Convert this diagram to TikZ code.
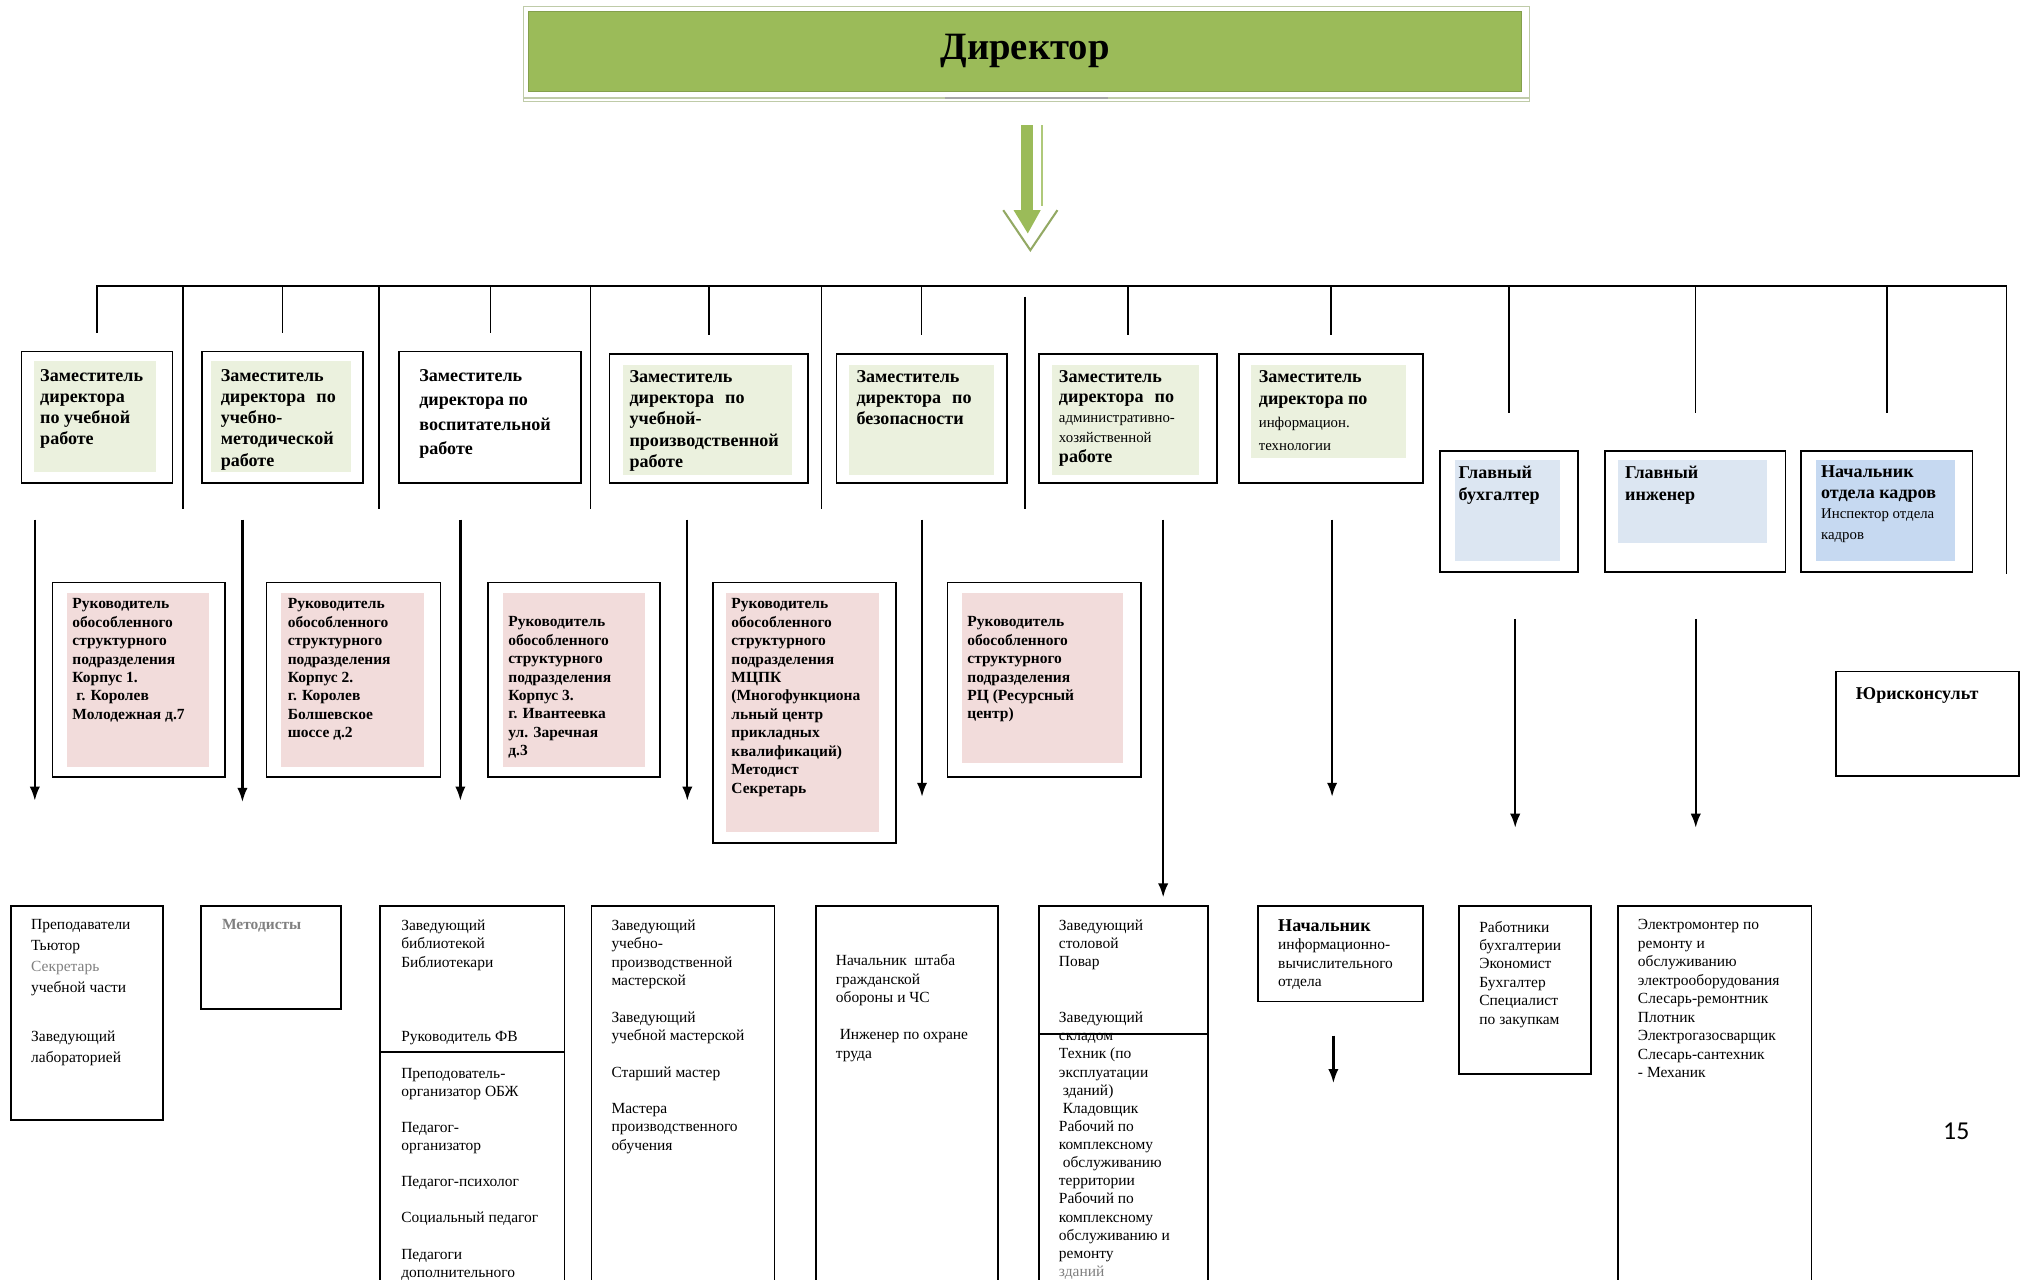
\documentclass[tikz,border=0pt]{standalone}
\usepackage{fontspec}
\setmainfont{Liberation Serif}
\setsansfont{Carlito}
\usetikzlibrary{arrows.meta}
\usepackage{xcolor}
\definecolor{dirgreen}{HTML}{9BBB59}
\definecolor{dirframe}{HTML}{BFCBA8}
\definecolor{zamfill}{HTML}{EBF1DE}
\definecolor{rukfill}{HTML}{F2DCDB}
\definecolor{glavfill}{HTML}{DCE6F2}
\definecolor{kadrfill}{HTML}{C6D9F1}
\tikzset{
	box/.style={draw, line width=1.3pt, anchor=north west, inner sep=0pt},
	txt/.style={anchor=north west, inner sep=0pt, align=left},
	zamtxt/.style={txt, font=\fontsize{14}{16.5}\selectfont\bfseries},
	ruktxt/.style={txt, font=\fontsize{12}{14.3}\selectfont\bfseries},
	smalltxt/.style={txt, font=\fontsize{12}{14.3}\selectfont},
	stub/.style={line width=1.1pt},
	>={Latex[length=11pt,width=8pt]}
}
\begin{document}
\begin{tikzpicture}[x=1pt,y=-1pt]
		\useasboundingbox (0,0) rectangle (1568,992);
		\clip (0,0) rectangle (1568,992);
		
		% Director
		\draw[dirframe, line width=0.8pt] (406,5) rectangle (1186,79);
		\draw[dirframe, line width=2pt] (406,76) -- (1186,76);
		\draw[gray!70, line width=2pt] (733,76) -- (859,76);
		\node[fill=dirgreen, draw=dirgreen!85!black, minimum width=770pt, minimum height=62pt,
			font=\fontsize{30}{34}\selectfont\bfseries] (director) at (795,39.5) {Директор};
		
		% green arrow
		\fill[dirgreen] (792,97) rectangle (801,166);
		\draw[dirgreen!80, line width=1.2pt] (808,97) -- (808,160);
		\draw[dirgreen!70!gray, line width=1.6pt] (778,163) -- (799,194) -- (820,163);
		\fill[dirgreen] (786,163) -- (807,163) -- (797,181) -- cycle;
		
		% deputies
		\node[box, minimum width=117pt, minimum height=102pt] (zamUch) at (16,272) {};
		\node[box, minimum width=125pt, minimum height=102pt] (zamMet) at (156,272) {};
		\node[box, minimum width=141pt, minimum height=102pt] (zamVos) at (309,272) {};
		\node[box, minimum width=154pt, minimum height=100pt] (zamUpr) at (472,274) {};
		\node[box, minimum width=132pt, minimum height=100pt] (zamBez) at (648,274) {};
		\node[box, minimum width=138pt, minimum height=100pt] (zamAhr) at (805,274) {};
		\node[box, minimum width=143pt, minimum height=100pt] (zamInf) at (960,274) {};
		\fill[zamfill] (26,280) rectangle (121,366);
		\fill[zamfill] (164,280) rectangle (272,366);
		\fill[zamfill] (483,283) rectangle (614,368);
		\fill[zamfill] (658,283) rectangle (771,368);
		\fill[zamfill] (816,283) rectangle (930,368);
		\fill[zamfill] (970,283) rectangle (1090,355);
		\node[zamtxt] (zamUchTxt) at (31,286) {Заместитель\\директора\\по учебной\\работе};
		\node[zamtxt] (zamMetTxt) at (171,286) {Заместитель\\директора\hspace{5pt} по\\учебно-\\методической\\работе};
		\node[zamtxt, font=\fontsize{14}{19}\selectfont\bfseries] (zamVosTxt) at (325,286)
			{Заместитель\\директора по\\воспитательной\\работе};
		\node[zamtxt] (zamUprTxt) at (488,287) {Заместитель\\директора\hspace{5pt} по\\учебной-\\производственной\\работе};
		\node[zamtxt] (zamBezTxt) at (664,287) {Заместитель\\директора\hspace{5pt} по\\безопасности};
		\node[zamtxt, font=\fontsize{14}{15.5}\selectfont\bfseries] (zamAhrTxt) at (821,287)
			{Заместитель\\директора\hspace{5pt} по\\\fontsize{11.5}{13}\selectfont\mdseries административно-\\\fontsize{11.5}{13}\selectfont\mdseries хозяйственной\\работе};
		\node[zamtxt, font=\fontsize{14}{17.5}\selectfont\bfseries] (zamInfTxt) at (976,287)
			{Заместитель\\директора по\\\fontsize{11.5}{13}\selectfont\mdseries информацион.\\\fontsize{11.5}{13}\selectfont\mdseries технологии};
		
		% chief accountant, engineer, HR, lawyer
		\node[box, minimum width=107pt, minimum height=94pt] (glBuh) at (1116,349) {};
		\node[box, minimum width=140pt, minimum height=94pt] (glIng) at (1244,349) {};
		\node[box, minimum width=133pt, minimum height=94pt] (nachKadr) at (1396,349) {};
		\fill[glavfill] (1128,357) rectangle (1210,435);
		\fill[glavfill] (1255,357) rectangle (1370,421);
		\fill[kadrfill] (1408,357) rectangle (1516,435);
		\node[zamtxt, font=\fontsize{14}{17}\selectfont\bfseries] (glBuhTxt) at (1131,361) {Главный\\бухгалтер};
		\node[zamtxt, font=\fontsize{14}{17}\selectfont\bfseries] (glIngTxt) at (1260,361) {Главный\\инженер};
		\node[zamtxt, font=\fontsize{14}{16}\selectfont\bfseries] (nachKadrTxt) at (1412,361)
			{Начальник\\отдела кадров\\\fontsize{11.5}{13}\selectfont\mdseries Инспектор отдела\\\fontsize{11.5}{13}\selectfont\mdseries кадров};
		\node[box, minimum width=142pt, minimum height=81pt] (jurist) at (1423,520) {};
		\node[zamtxt] (juristTxt) at (1439,533) {Юрисконсульт};
		
		% bus
		\coordinate (busL) at (74.5,222);
		\coordinate (busR) at (1556,222);
		\draw[line width=1.5pt] (busL) -- (busR);
		\foreach \n in {zamUch,zamMet,zamVos,zamUpr,zamBez,zamAhr,zamInf}
			\draw[stub] (\n.north |- busL) -- ([yshift=14pt]\n.north);
		\foreach \n in {glBuh,glIng,nachKadr}
			\draw[stub] (\n.north |- busL) -- ([yshift=29pt]\n.north);
		\foreach \x in {142,294,458,637}
			\draw[stub] (\x,222) -- (\x,395);
		\draw[stub] (795,230) -- (795,395);
		\draw[stub] (busR) -- (1556,445);
		
		% heads of branches
		\node[box, minimum width=134pt, minimum height=151pt] (ruk1) at (40,451) {};
		\node[box, minimum width=135pt, minimum height=151pt] (ruk2) at (206,451) {};
		\node[box, minimum width=133pt, minimum height=151pt] (ruk3) at (378,451) {};
		\node[box, minimum width=142pt, minimum height=202pt] (ruk4) at (552,451) {};
		\node[box, minimum width=150pt, minimum height=151pt] (ruk5) at (734,451) {};
		\fill[rukfill] (52,460) rectangle (162,595);
		\fill[rukfill] (218,460) rectangle (329,595);
		\fill[rukfill] (390,460) rectangle (500,595);
		\fill[rukfill] (563,460) rectangle (682,645);
		\fill[rukfill] (746,460) rectangle (871,592);
		\node[ruktxt] (ruk1Txt) at (56,464) {Руководитель\\обособленного\\структурного\\подразделения\\Корпус 1.\\\ г. Королев\\Молодежная д.7};
		\node[ruktxt] (ruk2Txt) at (223,464) {Руководитель\\обособленного\\структурного\\подразделения\\Корпус 2.\\г. Королев\\Болшевское\\шоссе д.2};
		\node[ruktxt] (ruk3Txt) at (394,478) {Руководитель\\обособленного\\структурного\\подразделения\\Корпус 3.\\г. Ивантеевка\\ул. Заречная\\д.3};
		\node[ruktxt] (ruk4Txt) at (567,464) {Руководитель\\обособленного\\структурного\\подразделения\\МЦПК\\(Многофункциона\\льный центр\\прикладных\\квалификаций)\\Методист\\Секретарь};
		\node[ruktxt] (ruk5Txt) at (750,478) {Руководитель\\обособленного\\структурного\\подразделения\\РЦ (Ресурсный\\центр)};
		
		% arrows down
		\foreach \x/\a/\b [count=\i] in {27/403/621,188/403/622,357/403/621,533/403/621,715/403/618,
				902/403/696,1033/403/618,1175/480/642,1315/480/642,1034/803/840} {
			\coordinate (from\i) at (\x,\a);
			\coordinate (to\i) at (\x,\b);
			\draw[->, line width=1.8pt] (from\i) -- (to\i);
		}
		
		% staff
		\node[box, minimum width=118pt, minimum height=166pt] (prep) at (8,702) {};
		\node[box, minimum width=109pt, minimum height=80pt] (metod) at (155,702) {};
		\node[box, minimum width=143pt, minimum height=310pt] (bibl) at (294,702) {};
		\node[box, minimum width=142pt, minimum height=310pt] (master) at (458,702) {};
		\node[box, minimum width=141pt, minimum height=310pt] (shtab) at (632,702) {};
		\node[box, minimum width=131pt, minimum height=310pt] (stol) at (805,702) {};
		\node[box, minimum width=128pt, minimum height=74pt] (ivc) at (975,702) {};
		\node[box, minimum width=102pt, minimum height=130pt] (buhg) at (1131,702) {};
		\node[box, minimum width=150pt, minimum height=310pt] (elektr) at (1254,702) {};
		
		\node[smalltxt, font=\fontsize{12}{16.3}\selectfont] (prepTxt) at (24,713)
			{Преподаватели\\Тьютор\\\color{gray}Секретарь\\учебной части\\[21pt]Заведующий\\лабораторией};
		\node[smalltxt, font=\fontsize{12}{14.3}\selectfont\bfseries, text=gray] (metodTxt) at (172,713) {Методисты};
		\node[smalltxt] (biblTxt) at (311,713) {Заведующий\\библиотекой\\Библиотекари\\[43.5pt]Руководитель ФВ};
		\draw[line width=1.3pt] ([yshift=-114pt]bibl.north west) -- ([yshift=-114pt]bibl.north east);
		\node[smalltxt, font=\fontsize{12}{14.1}\selectfont] (pedTxt) at (311,828) {Преподователь-\\организатор ОБЖ\\[13.8pt]Педагог-\\организатор\\[14pt]Педагог-психолог\\[14pt]Социальный педагог\\[14pt]Педагоги\\дополнительного};
		\node[smalltxt] (masterTxt) at (474,713) {Заведующий\\учебно-\\производственной\\мастерской\\[14pt]Заведующий\\учебной мастерской\\[14pt]Старший мастер\\[14pt]Мастера\\производственного\\обучения};
		\node[smalltxt] (shtabTxt) at (648,740) {Начальник\ \ штаба\\гражданской\\обороны и ЧС\\[14.5pt]\ Инженер по охране\\труда};
		\node[smalltxt, font=\fontsize{12}{14.05}\selectfont] (stolTxt) at (821,713) {Заведующий\\столовой\\Повар\\[29.5pt]Заведующий\\складом\\Техник (по\\эксплуатации\\\ зданий)\\\ Кладовщик\\Рабочий по\\комплексному\\\ обслуживанию\\территории\\Рабочий по\\комплексному\\обслуживанию и\\ремонту\\\color{gray}зданий};
		\draw[line width=1.3pt] ([yshift=-100pt]stol.north west) -- ([yshift=-100pt]stol.north east);
		\node[smalltxt] (ivcTxt) at (991,713) {\fontsize{14}{15}\selectfont\bfseries Начальник\\информационно-\\вычислительного\\отдела};
		\node[smalltxt] (buhgTxt) at (1147,714) {Работники\\бухгалтерии\\Экономист\\Бухгалтер\\Специалист\\по закупкам};
		\node[smalltxt] (elektrTxt) at (1270,713) {Электромонтер по\\ремонту и\\обслуживанию\\электрооборудования\\Слесарь-ремонтник\\Плотник\\Электрогазосварщик\\Слесарь-сантехник\\- Механик};
		
		\node[font=\sffamily\fontsize{20}{24}\selectfont] (pageNum) at (1517,877) {15};
		
		\end{tikzpicture}
\end{document}
